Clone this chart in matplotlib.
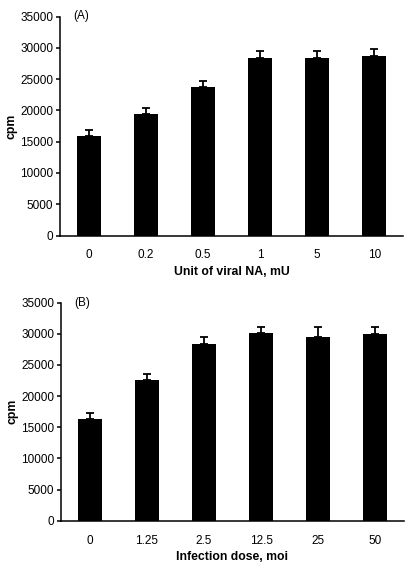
import numpy as np
import matplotlib
matplotlib.use("Agg")
import matplotlib.pyplot as plt

plt.rcParams['font.family'] = ['Liberation Sans', 'DejaVu Sans']

# Panel A data
labels_a = ['0', '0.2', '0.5', '1', '5', '10']
values_a = [15950, 19370, 23680, 28320, 28320, 28740]
errors_a = [950, 1050, 1000, 1200, 1200, 1100]

# Panel B data
labels_b = ['0', '1.25', '2.5', '12.5', '25', '50']
values_b = [16380, 22540, 28420, 30130, 29540, 29930]
errors_b = [870, 960, 1070, 1020, 1500, 1100]

W, H = 417, 570
fig = plt.figure(figsize=(W / 100, H / 100), dpi=100)


def make_panel(rect, labels, values, errors, xlabel, tag):
    ax = fig.add_axes(rect)
    x = np.arange(len(labels))
    ax.bar(x, values, width=0.42, color='black', zorder=2)
    # upper error bars only
    ax.errorbar(x, values, yerr=[np.zeros(len(errors)), errors], fmt='none',
                ecolor='black', elinewidth=1.3, capsize=3, capthick=1.3, zorder=3)
    ax.set_xlim(-0.5, len(labels) - 0.5)
    ax.set_ylim(0, 35000)
    ax.set_yticks(np.arange(0, 35001, 5000))
    ax.set_xticks(x)
    ax.set_xticklabels(labels)
    ax.spines['top'].set_visible(False)
    ax.spines['right'].set_visible(False)
    ax.spines['left'].set_linewidth(1.1)
    ax.spines['bottom'].set_linewidth(1.1)
    ax.tick_params(axis='y', direction='out', length=3, width=1.1, labelsize=8.5, pad=2)
    ax.tick_params(axis='x', length=0, labelsize=8.5, pad=10)
    ax.set_xlabel(xlabel, fontsize=8.8, fontweight='bold', labelpad=3)
    ax.set_ylabel('cpm', fontsize=8.8, fontweight='bold')
    ax.yaxis.set_label_coords(-0.125, 0.5)
    ax.text(0.04, 1.0, tag, transform=ax.transAxes, fontsize=8.5, va='center', ha='left')
    return ax


# axes rects in figure fractions (left, bottom, width, height)
make_panel([60 / W, 1 - 235.5 / H, 343 / W, 219 / H],
           labels_a, values_a, errors_a, 'Unit of viral NA, mU', '(A)')
make_panel([61 / W, 1 - 520.7 / H, 343 / W, 218 / H],
           labels_b, values_b, errors_b, 'Infection dose, moi', '(B)')

fig.savefig('out.png', dpi=100, facecolor='white')
